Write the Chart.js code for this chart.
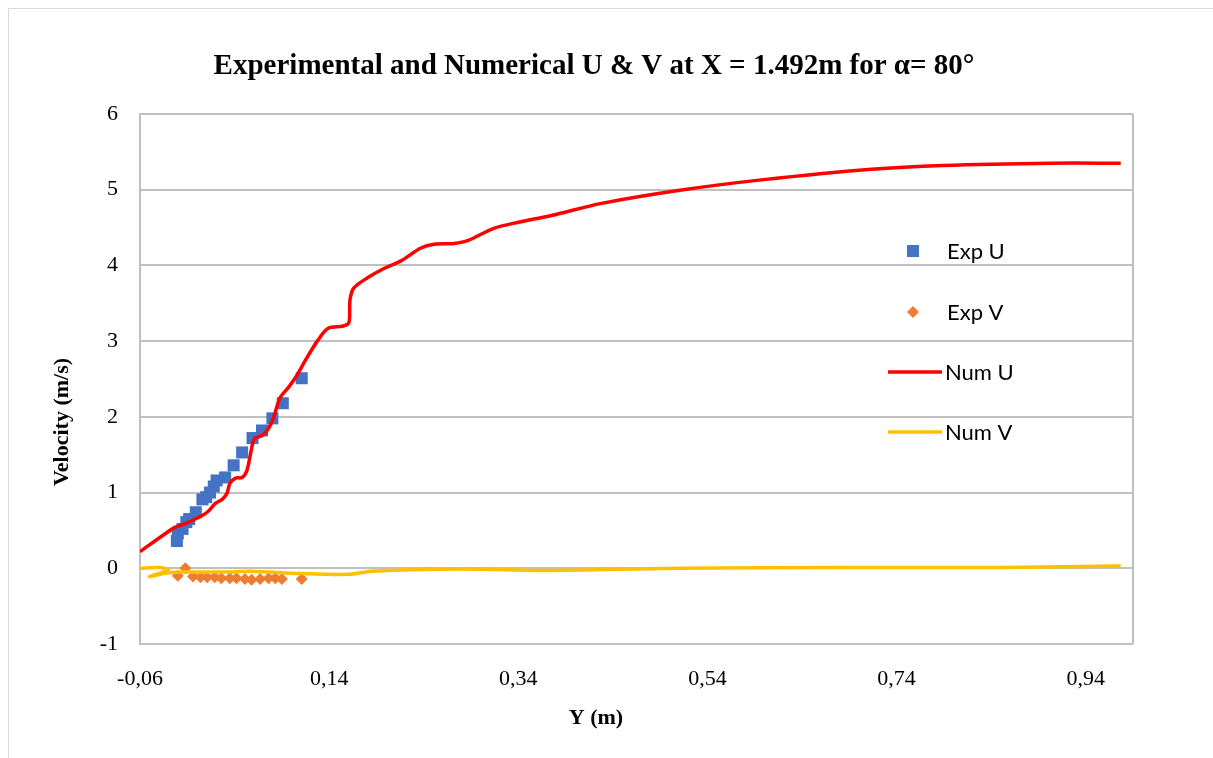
<!DOCTYPE html>
<html>
<head>
<meta charset="utf-8">
<script src="https://cdn.jsdelivr.net/npm/chart.js@4/dist/chart.umd.min.js"></script>
<style>
  html, body { margin: 0; padding: 0; background: #fff; }
  #frame { position: absolute; left: 8px; top: 8px; width: 1220px; height: 770px; border: 1px solid #d9d9d9; }
  canvas { position: absolute; left: 0; top: 0; }
</style>
</head>
<body>
<div id="frame"></div>
<canvas id="chart-vel" width="1213" height="758"></canvas>
<script>
  // Experimental U (blue squares)
  var expUY = [-0.021, -0.020, -0.015, -0.011, -0.008, -0.001, 0.006, 0.010, 0.014, 0.018, 0.021, 0.030, 0.039, 0.048, 0.059, 0.069, 0.080, 0.091, 0.111];
  var expU  = [0.36, 0.46, 0.52, 0.61, 0.65, 0.74, 0.91, 0.94, 1.00, 1.08, 1.16, 1.20, 1.36, 1.53, 1.72, 1.82, 1.98, 2.18, 2.51];

  // Experimental V (orange diamonds)
  var expVY = [-0.020, -0.012, -0.004, 0.004, 0.011, 0.019, 0.026, 0.035, 0.042, 0.051, 0.058, 0.067, 0.076, 0.083, 0.090, 0.111];
  var expV  = [-0.10, 0.00, -0.11, -0.12, -0.12, -0.12, -0.13, -0.13, -0.13, -0.14, -0.15, -0.14, -0.13, -0.13, -0.14, -0.14];

  // Numerical U (red line)
  var numUY = [-0.060, -0.033, -0.023, -0.012, 0.000, 0.011, 0.020, 0.027, 0.032, 0.035, 0.041, 0.048, 0.053, 0.057, 0.060,
               0.062, 0.070, 0.076, 0.081, 0.088, 0.097, 0.106, 0.115, 0.128, 0.139, 0.155, 0.161, 0.162, 0.166, 0.181,
               0.198, 0.216, 0.237, 0.251, 0.272, 0.287, 0.314, 0.340, 0.375, 0.428, 0.509, 0.597, 0.713, 0.789, 0.904, 0.977];
  var numU  = [0.22, 0.46, 0.54, 0.59, 0.66, 0.74, 0.86, 0.91, 0.99, 1.12, 1.19, 1.20, 1.29, 1.52, 1.69,
               1.72, 1.76, 1.85, 1.98, 2.25, 2.39, 2.55, 2.75, 3.01, 3.17, 3.20, 3.25, 3.54, 3.70, 3.84,
               3.96, 4.06, 4.23, 4.28, 4.29, 4.33, 4.49, 4.57, 4.66, 4.82, 4.99, 5.13, 5.27, 5.32, 5.35, 5.35];

  // Numerical V (yellow line)
  var numVY = [-0.060, -0.040, -0.030, -0.050, -0.035, -0.020, 0.004, 0.030, 0.057, 0.110, 0.162, 0.184, 0.281, 0.367, 0.509, 0.682, 0.852, 0.977];
  var numV  = [0.00, 0.01, -0.02, -0.11, -0.07, -0.05, -0.05, -0.05, -0.04, -0.07, -0.08, -0.04, -0.01, -0.03, 0.00, 0.01, 0.01, 0.03];

  var xTicks = [-0.06, 0.14, 0.34, 0.54, 0.74, 0.94];

  var TITLE = 'Experimental and Numerical U & V at X = 1.492m for \u03b1= 80\u00b0';
  var SERIF = '"Liberation Serif", "Times New Roman", serif';
  var SANS = 'Lato, "Liberation Sans", sans-serif';

  function pts(xs, ys) {
    return xs.map(function(x, i) { return { x: x, y: ys[i] }; });
  }

  /** タイトル・軸ラベル・凡例・枠線 */
  var decor = {
    id: 'decor',
    afterDraw: function(c) {
      var ctx = c.ctx;
      var a = c.chartArea;
      ctx.save();
      ctx.strokeStyle = '#bfbfbf';
      ctx.lineWidth = 2;
      ctx.beginPath();
      ctx.moveTo(a.right, a.top);
      ctx.lineTo(a.right, a.bottom);
      ctx.stroke();

      ctx.fillStyle = '#000';
      ctx.textAlign = 'center';
      ctx.textBaseline = 'middle';
      ctx.font = 'bold 29px ' + SERIF;
      ctx.fillText(TITLE, 594, 67);

      ctx.font = 'bold 22px ' + SERIF;
      ctx.fillText('Y (m)', 596, 718);
      ctx.translate(62, 422);
      ctx.rotate(-Math.PI / 2);
      ctx.fillText('Velocity (m/s)', 0, 0);
      ctx.restore();

      // 凡例
      ctx.save();
      ctx.font = '22px ' + SANS;
      ctx.textAlign = 'left';
      ctx.textBaseline = 'middle';
      var ds = c.data.datasets;
      ctx.fillStyle = ds[0].backgroundColor;
      ctx.fillRect(907, 245, 12, 12);
      ctx.fillStyle = ds[1].backgroundColor;
      ctx.beginPath();
      ctx.moveTo(913, 306); ctx.lineTo(919, 312); ctx.lineTo(913, 318); ctx.lineTo(907, 312);
      ctx.closePath();
      ctx.fill();
      ctx.lineWidth = 3.5;
      ctx.strokeStyle = ds[2].borderColor;
      ctx.beginPath(); ctx.moveTo(888, 372); ctx.lineTo(942, 372); ctx.stroke();
      ctx.strokeStyle = ds[3].borderColor;
      ctx.beginPath(); ctx.moveTo(888, 432); ctx.lineTo(942, 432); ctx.stroke();
      ctx.fillStyle = '#000';
      ctx.fillText('Exp U', 947, 252);
      ctx.fillText('Exp V', 947, 313);
      ctx.fillText('Num U', 945, 373);
      ctx.fillText('Num V', 945, 433);
      ctx.restore();
    }
  };

  new Chart(document.getElementById('chart-vel'), {
    type: 'scatter',
    data: {
      datasets: [
        {
          label: 'Exp U',
          data: pts(expUY, expU),
          pointStyle: 'rect',
          pointRadius: 8.5,
          backgroundColor: '#4472c4',
          borderColor: '#4472c4',
          borderWidth: 0,
          order: 4
        },
        {
          label: 'Exp V',
          data: pts(expVY, expV),
          pointStyle: 'rectRot',
          pointRadius: 6,
          backgroundColor: '#ed7d31',
          borderColor: '#ed7d31',
          borderWidth: 0,
          order: 3
        },
        {
          label: 'Num U',
          data: pts(numUY, numU),
          showLine: true,
          pointRadius: 0,
          borderColor: '#ff0000',
          backgroundColor: '#ff0000',
          borderWidth: 3.5,
          tension: 0.3,
          order: 2
        },
        {
          label: 'Num V',
          data: pts(numVY, numV),
          showLine: true,
          pointRadius: 0,
          borderColor: '#ffc000',
          backgroundColor: '#ffc000',
          borderWidth: 3.5,
          tension: 0.3,
          order: 1
        }
      ]
    },
    options: {
      responsive: false,
      animation: false,
      devicePixelRatio: 1,
      layout: { padding: { left: 0, top: 114, right: 80, bottom: 0 } },
      plugins: {
        legend: { display: false },
        title: { display: false },
        tooltip: { enabled: false }
      },
      scales: {
        x: {
          type: 'linear',
          min: -0.06,
          max: 0.99,
          afterBuildTicks: function(s) {
            s.ticks = xTicks.map(function(v) { return { value: v }; });
          },
          afterFit: function(s) { s.height = 114; },
          grid: { display: false, drawTicks: false },
          border: { display: false },
          ticks: {
            color: '#000',
            padding: 22,
            maxRotation: 0,
            autoSkip: false,
            font: { family: SERIF, size: 22 },
            callback: function(v) { return v.toFixed(2).replace('.', ','); }
          }
        },
        y: {
          min: -1,
          max: 6,
          afterFit: function(s) { s.width = 140; },
          grid: { color: '#c0c0c0', lineWidth: 2, drawTicks: false },
          border: { display: true, color: '#bfbfbf', width: 2 },
          ticks: {
            stepSize: 1,
            color: '#000',
            padding: 22,
            font: { family: SERIF, size: 22 }
          }
        }
      }
    },
    plugins: [decor]
  });
</script>
</body>
</html>
